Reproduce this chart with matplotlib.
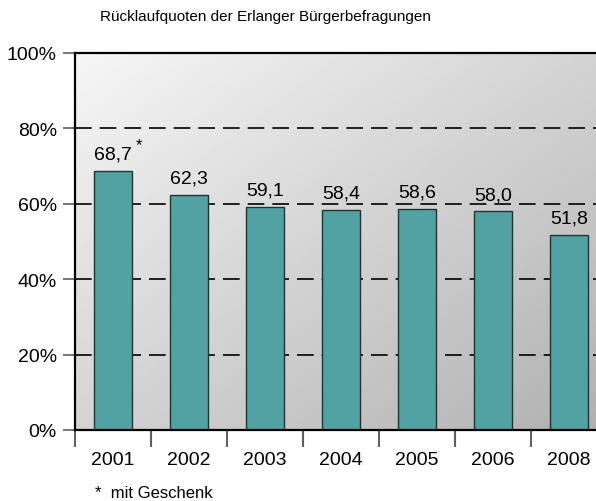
import matplotlib
matplotlib.use("Agg")
import matplotlib.pyplot as plt
import numpy as np

years = ["2001", "2002", "2003", "2004", "2005", "2006", "2008"]
rates = [68.7, 62.3, 59.1, 58.4, 58.6, 58.0, 51.8]
labels = ["68,7", "62,3", "59,1", "58,4", "58,6", "58,0", "51,8"]
yticks = [0, 20, 40, 60, 80, 100]
ytick_labels = ["0%", "20%", "40%", "60%", "80%", "100%"]

plt.rcParams['font.family'] = ['Liberation Sans', 'DejaVu Sans']

fig = plt.figure(figsize=(5.96, 5.02), dpi=100)
W, H = 596, 502
left, right, top, bottom = 75, 607, 54, 431
ax = fig.add_axes([left / W, 1 - bottom / H, (right - left) / W, (bottom - top) / H])

# gradient background (light top-left -> darker bottom-right)
n = 256
xx, yy = np.meshgrid(np.linspace(0, 1, n), np.linspace(0, 1, n))
img = 0.965 - 0.14 * xx - 0.135 * yy
ax.imshow(img, cmap='gray', vmin=0, vmax=1, extent=[0, 1, 0, 1],
          transform=ax.transAxes, aspect='auto', zorder=0, origin='upper')

x = np.arange(len(years))
ax.set_xlim(-0.5, len(years) - 0.5)
ax.set_ylim(0, 100)

for g in [20, 40, 60, 80]:
    ax.axhline(g, color='black', lw=1.2, dashes=(10, 4.8), zorder=1)

ax.bar(x, rates, width=0.5, color='#51A2A2', edgecolor='#1f3535', lw=1.0, zorder=2)

for xi, r, lab in zip(x, rates, labels):
    ax.text(xi, r + 2.2, lab, ha='center', va='bottom', fontsize=14, zorder=3)
ax.text(x[0] + 0.345, 75.6, "*", ha='center', va='center', fontsize=12, zorder=3)

ax.spines['right'].set_visible(False)
ax.spines['top'].set_linewidth(1.6)
ax.spines['left'].set_linewidth(1.6)
ax.spines['bottom'].set_linewidth(1.6)

ax.set_yticks(yticks)
ax.set_yticklabels(ytick_labels, fontsize=14)
ax.tick_params(axis='y', length=9, color='#606060', width=1.2, pad=4)

ax.set_xticks(x)
ax.set_xticklabels(years, fontsize=14)
ax.tick_params(axis='x', length=0, pad=15)
ax.set_xticks(np.arange(len(years)) - 0.5, minor=True)
ax.tick_params(axis='x', which='minor', length=12, color='#606060', width=1.5)

fig.text(100 / W, 1 - 17 / H, "Rücklaufquoten der Erlanger Bürgerbefragungen",
         fontsize=11, ha='left', va='center')
fig.text(95 / W, 1 - 494 / H, "*  mit Geschenk", fontsize=12, ha='left', va='center')

fig.savefig("out.png", dpi=100)
